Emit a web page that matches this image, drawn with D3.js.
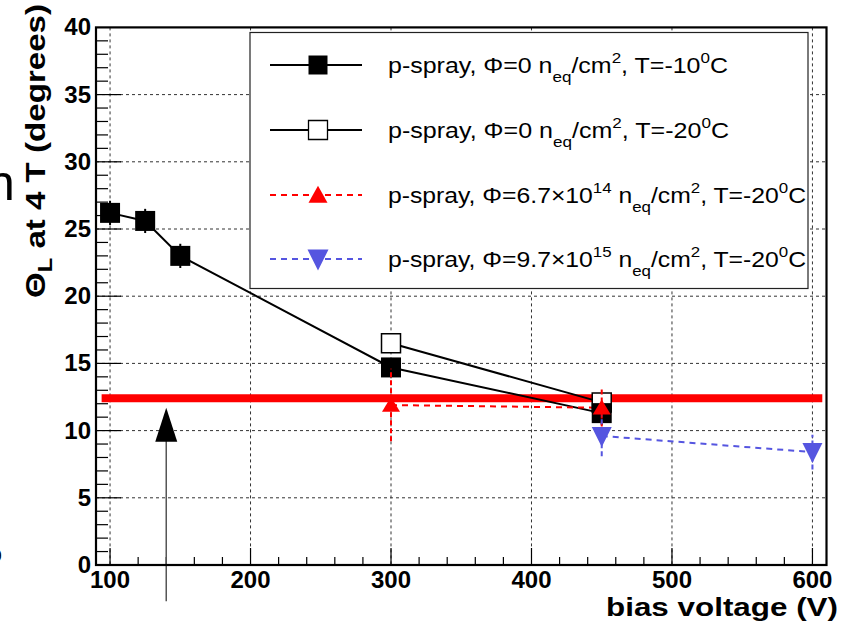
<!DOCTYPE html>
<html><head><meta charset="utf-8">
<script src="https://cdn.jsdelivr.net/npm/d3@7"></script>
<style>body{margin:0;background:#fff}svg{display:block}text{font-family:"Liberation Sans",Arial,sans-serif}</style>
</head><body><svg id="c" width="842" height="629"></svg>
<script>
// ---- data ----
const xTicks = [100, 200, 300, 400, 500, 600];
const yTicks = [0, 5, 10, 15, 20, 25, 30, 35, 40];
const s1X = [100, 125, 150, 300, 450];          // p-spray, Phi=0, T=-10C (filled squares)
const s1Y = [26.2, 25.6, 23.0, 14.7, 11.3];
const s1E = [0.9, 0.9, 0.9, 0.6, 0.9];
const s2X = [300, 450];                          // p-spray, Phi=0, T=-20C (open squares)
const s2Y = [16.5, 12.1];
const s2E = [0.5, 0.5];
const s3X = [300, 450];                          // Phi=6.7e14 (red up triangles)
const s3Y = [11.9, 11.7];
const s3E = [2.7, 1.4];
const s4X = [450, 600];                          // Phi=9.7e15 (blue down triangles)
const s4Y = [9.6, 8.4];
const s4E = [1.5, 1.3];
const limitY = 12.4, limitX = [94, 607];         // red horizontal line
const arrowX = 140, arrowY = [-2.7, 11.7];       // black arrow

const svg = d3.select("#c");
const x = d3.scaleLinear([90, 610], [96, 826.5]);
const y = d3.scaleLinear([0, 40], [565, 27.4]);

// stray slide fragments at the left edge
svg.append("text").attr("x", -13).attr("y", 200).attr("font-size", 50).text("n");
svg.append("text").attr("x", -7).attr("y", 372).attr("font-size", 30).attr("font-weight", "bold").text(",");
svg.append("text").attr("x", -15).attr("y", 563).attr("font-size", 28).attr("font-weight", "bold").text("o");

// grid
const g = svg.append("g");
g.selectAll(".gx").data(xTicks).join("line")
  .attr("x1", d => x(d)).attr("x2", d => x(d)).attr("y1", y(40)).attr("y2", y(0))
  .attr("stroke", "#333").attr("stroke-width", 1).attr("stroke-dasharray", "3,3");
g.selectAll(".gy").data(yTicks.filter(d => d > 0 && d < 40)).join("line")
  .attr("x1", x(90)).attr("x2", x(610)).attr("y1", d => y(d)).attr("y2", d => y(d))
  .attr("stroke", "#333").attr("stroke-width", 1).attr("stroke-dasharray", "3,3");

// ticks
const xMinor = d3.range(100, 610, 20);
svg.selectAll(".xm").data(xMinor).join("line")
  .attr("x1", d => x(d)).attr("x2", d => x(d)).attr("y1", y(0)).attr("y2", d => y(0) - (d % 100 === 0 ? 17 : 8))
  .attr("stroke", "#000").attr("stroke-width", 1.2);
const yMinor = d3.range(1, 40, 1);
svg.selectAll(".ym").data(yMinor).join("line")
  .attr("x1", x(90)).attr("x2", d => x(90) + (d % 5 === 0 ? 25 : 12)).attr("y1", d => y(d)).attr("y2", d => y(d))
  .attr("stroke", "#000").attr("stroke-width", 1.2);

// legend box
svg.append("rect").attr("x", 250).attr("y", 32.5).attr("width", 558).attr("height", 256)
  .attr("fill", "#fff").attr("stroke", "#222").attr("stroke-width", 1.2);

// red limit line
svg.append("line").attr("x1", x(limitX[0])).attr("x2", x(limitX[1])).attr("y1", y(limitY)).attr("y2", y(limitY))
  .attr("stroke", "#ff0000").attr("stroke-width", 8);

// arrow
svg.append("line").attr("x1", x(arrowX)).attr("x2", x(arrowX)).attr("y1", y(arrowY[0])).attr("y2", y(arrowY[1]) + 20)
  .attr("stroke", "#555").attr("stroke-width", 1.5);
svg.append("path").attr("d", () => {
  const cx = x(arrowX), ty = y(arrowY[1]);
  return `M${cx},${ty} L${cx + 11},${ty + 34} L${cx - 11},${ty + 34} Z`;
}).attr("fill", "#000");

const line = d3.line().x(d => x(d[0])).y(d => y(d[1]));
function zip(a, b) { return a.map((v, i) => [v, b[i]]); }

// lines
svg.append("path").attr("d", line(zip(s1X, s1Y))).attr("fill", "none").attr("stroke", "#000").attr("stroke-width", 2);
svg.append("path").attr("d", line(zip(s2X, s2Y))).attr("fill", "none").attr("stroke", "#000").attr("stroke-width", 2);
svg.append("path").attr("d", line(zip(s3X, s3Y))).attr("fill", "none").attr("stroke", "#ff0000").attr("stroke-width", 2).attr("stroke-dasharray", "6,5");
svg.append("path").attr("d", line(zip(s4X, s4Y))).attr("fill", "none").attr("stroke", "#5555e0").attr("stroke-width", 2).attr("stroke-dasharray", "6,5");

// error bars
function errs(X, Y, E, col, dash) {
  svg.append("g").selectAll("line").data(X.map((v, i) => [v, Y[i], E[i]])).join("line")
    .attr("x1", d => x(d[0])).attr("x2", d => x(d[0])).attr("y1", d => y(d[1] - d[2])).attr("y2", d => y(d[1] + d[2]))
    .attr("stroke", col).attr("stroke-width", 2).attr("stroke-dasharray", dash);
}
errs(s1X, s1Y, s1E, "#000", null);
errs(s2X, s2Y, s2E, "#000", null);

// markers
const sq = (cx, cy, h) => `M${cx - h},${cy - h}h${2 * h}v${2 * h}h${-2 * h}Z`;
const tup = (cx, cy, w, h) => `M${cx},${cy - h * 0.55}L${cx + w / 2},${cy + h * 0.45}L${cx - w / 2},${cy + h * 0.45}Z`;
const tdn = (cx, cy, w, h) => `M${cx},${cy + h * 0.55}L${cx + w / 2},${cy - h * 0.45}L${cx - w / 2},${cy - h * 0.45}Z`;

svg.append("g").selectAll("path").data(zip(s2X, s2Y)).join("path")
  .attr("d", d => sq(x(d[0]), y(d[1]), 9.5)).attr("fill", "#fff").attr("stroke", "#000").attr("stroke-width", 1.5);
svg.append("g").selectAll("path").data(zip(s1X, s1Y)).join("path")
  .attr("d", d => sq(x(d[0]), y(d[1]), 10)).attr("fill", "#000");
errs(s3X, s3Y, s3E, "#ff0000", "5,3");
errs(s4X, s4Y, s4E, "#5555e0", "5,3");
svg.append("g").selectAll("path").data(zip(s3X, s3Y)).join("path")
  .attr("d", d => tup(x(d[0]), y(d[1]), 18, 15)).attr("fill", "#ff0000");
svg.append("g").selectAll("path").data(zip(s4X, s4Y)).join("path")
  .attr("d", d => tdn(x(d[0]), y(d[1]), 20, 20)).attr("fill", "#5555e0");

// frame
svg.append("rect").attr("x", x(90)).attr("y", y(40)).attr("width", x(610) - x(90)).attr("height", y(0) - y(40))
  .attr("fill", "none").attr("stroke", "#000").attr("stroke-width", 2.2);

// tick labels
svg.selectAll(".xl").data(xTicks).join("text")
  .attr("x", d => x(d)).attr("y", 588).attr("text-anchor", "middle")
  .attr("font-size", 24).attr("font-weight", "bold").text(d => d);
svg.selectAll(".yl").data(yTicks).join("text")
  .attr("x", 91).attr("y", d => y(d) + 8).attr("text-anchor", "end")
  .attr("font-size", 24).attr("font-weight", "bold").text(d => d);

// axis titles
svg.append("text").attr("x", 838).attr("y", 616).attr("text-anchor", "end")
  .attr("font-size", 26).attr("font-weight", "bold").attr("textLength", 232).attr("lengthAdjust", "spacingAndGlyphs")
  .text("bias voltage (V)");
const yt = svg.append("text").attr("transform", "translate(45,151) rotate(-90)").attr("text-anchor", "middle")
  .attr("font-size", 28).attr("font-weight", "bold").attr("textLength", 294).attr("lengthAdjust", "spacingAndGlyphs");
yt.append("tspan").text("Θ");
yt.append("tspan").attr("font-size", 20).attr("dy", 7).text("L");
yt.append("tspan").attr("dy", -7).text(" at 4 T (degrees)");

// legend
const leg = [
  { parts: [["p-spray, Φ=0 n", 0], ["eq", 1], ["/cm", 0], ["2", -1], [", T=-10", 0], ["0", -1], ["C", 0]], col: "#000", dash: null, mk: "fsq", w: 340 },
  { parts: [["p-spray,  Φ=0 n", 0], ["eq", 1], ["/cm", 0], ["2", -1], [", T=-20", 0], ["0", -1], ["C", 0]], col: "#000", dash: null, mk: "osq", w: 341 },
  { parts: [["p-spray, Φ=6.7×10", 0], ["14", -1], [" n", 0], ["eq", 1], ["/cm", 0], ["2", -1], [", T=-20", 0], ["0", -1], ["C", 0]], col: "#ff0000", dash: "6,5", mk: "tup", w: 418 },
  { parts: [["p-spray, Φ=9.7×10", 0], ["15", -1], [" n", 0], ["eq", 1], ["/cm", 0], ["2", -1], [", T=-20", 0], ["0", -1], ["C", 0]], col: "#5555e0", dash: "6,5", mk: "tdn", w: 418 }
];
const legY = [65, 130, 195, 259];
leg.forEach((L, i) => {
  const cy = legY[i];
  svg.append("line").attr("x1", 270).attr("x2", 362).attr("y1", cy).attr("y2", cy)
    .attr("stroke", L.col).attr("stroke-width", 2).attr("stroke-dasharray", L.dash);
  const m = svg.append("path").attr("fill", L.col);
  if (L.mk === "fsq") m.attr("d", sq(318, cy, 9.5));
  if (L.mk === "osq") m.attr("d", sq(318, cy, 9.5)).attr("fill", "#fff").attr("stroke", "#000").attr("stroke-width", 1.3);
  if (L.mk === "tup") m.attr("d", tup(318, cy, 19, 17));
  if (L.mk === "tdn") m.attr("d", tdn(318, cy, 21, 21));
  const t = svg.append("text").attr("x", 388).attr("y", cy + 8).attr("font-size", 22)
    .attr("textLength", L.w).attr("lengthAdjust", "spacingAndGlyphs");
  let cur = 0;
  L.parts.forEach(([s, lvl]) => {
    const target = lvl === 1 ? 9 : lvl === -1 ? -10 : 0;
    t.append("tspan").attr("dy", target - cur).attr("font-size", lvl === 0 ? 22 : 15).text(s);
    cur = target;
  });
});
</script></body></html>
